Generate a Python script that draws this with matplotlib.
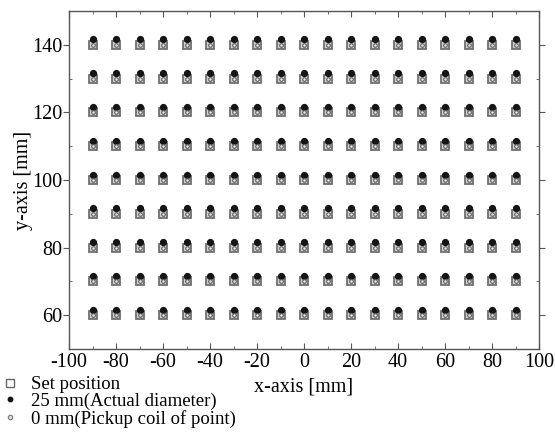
import numpy as np
import matplotlib.pyplot as plt

plt.rcParams['font.family'] = ['Liberation Serif', 'DejaVu Serif']
plt.rcParams['axes.unicode_minus'] = False

# grid of set positions [mm]
x_set = [-90, -80, -70, -60, -50, -40, -30, -20, -10, 0, 10, 20, 30, 40, 50, 60, 70, 80, 90]
y_set = [60, 70, 80, 90, 100, 110, 120, 130, 140]

dy_actual = 1.6   # 25 mm actual diameter sits just above
dy_pickup = 0.0   # pickup coil point sits on set position

X, Y = np.meshgrid(x_set, y_set)
X = X.ravel()
Y = Y.ravel()

fig = plt.figure(figsize=(5.55, 4.36), dpi=100)
ax = fig.add_axes([69 / 555, 1 - 349 / 436, 470 / 555, 338 / 436])

sq, = ax.plot(X, Y, 's', ms=6, mfc='#cfcfcf', mec='#707070', mew=1.3, linestyle='none')
dot, = ax.plot(X, Y + dy_actual, 'o', ms=4.2, color='#151515', linestyle='none')
circ, = ax.plot(X, Y + dy_pickup, 'o', ms=2.6, mfc='#e8e8e8', mec='#606060', mew=0.8, linestyle='none')

ax.set_xlim(-100, 100)
ax.set_ylim(50, 150)
ax.set_xticks(range(-100, 101, 20))
ax.set_yticks(range(60, 141, 20))
ax.set_xticks(range(-90, 100, 10), minor=True)
ax.set_yticks(range(60, 141, 10), minor=True)

ax.tick_params(axis='x', which='both', direction='in', top=True, labelsize=14.5, pad=3)
ax.tick_params(axis='y', which='major', direction='out', labelsize=14.5, pad=1)
ax.tick_params(axis='y', which='minor', direction='in', right=True)
ax.tick_params(axis='y', which='major', right=True)
ax.tick_params(which='major', length=4, color='#555555')
ax.tick_params(which='minor', length=2.5, color='#555555')
for s in ax.spines.values():
    s.set_color('#555555')
    s.set_linewidth(1.0)

ax.set_xlabel('x-axis [mm]', fontsize=14.5)
ax.set_ylabel('y-axis [mm]', fontsize=14.5, labelpad=-1)
ax.xaxis.set_label_coords(0.5, -0.083)
ax.xaxis.label.set_va('top')

# legend handles: open square, small dot, small circle
h_sq, = ax.plot([], [], 's', ms=5.5, mfc='white', mec='#666666', mew=1.0)
h_dot, = ax.plot([], [], 'o', ms=3.2, color='#151515')
h_circ, = ax.plot([], [], 'o', ms=3.2, mfc='#dddddd', mec='#777777', mew=0.8)

fig.legend([h_sq, h_dot, h_circ],
           ['Set position', '25 mm(Actual diameter)', '0 mm(Pickup coil of point)'],
           loc='upper left', bbox_to_anchor=(0.003, 1 - 376 / 436),
           frameon=False, fontsize=13.5, handlelength=0.9, handletextpad=0.65,
           labelspacing=-0.02, borderpad=0.0, borderaxespad=0.0)

fig.savefig('out.png', dpi=100)
